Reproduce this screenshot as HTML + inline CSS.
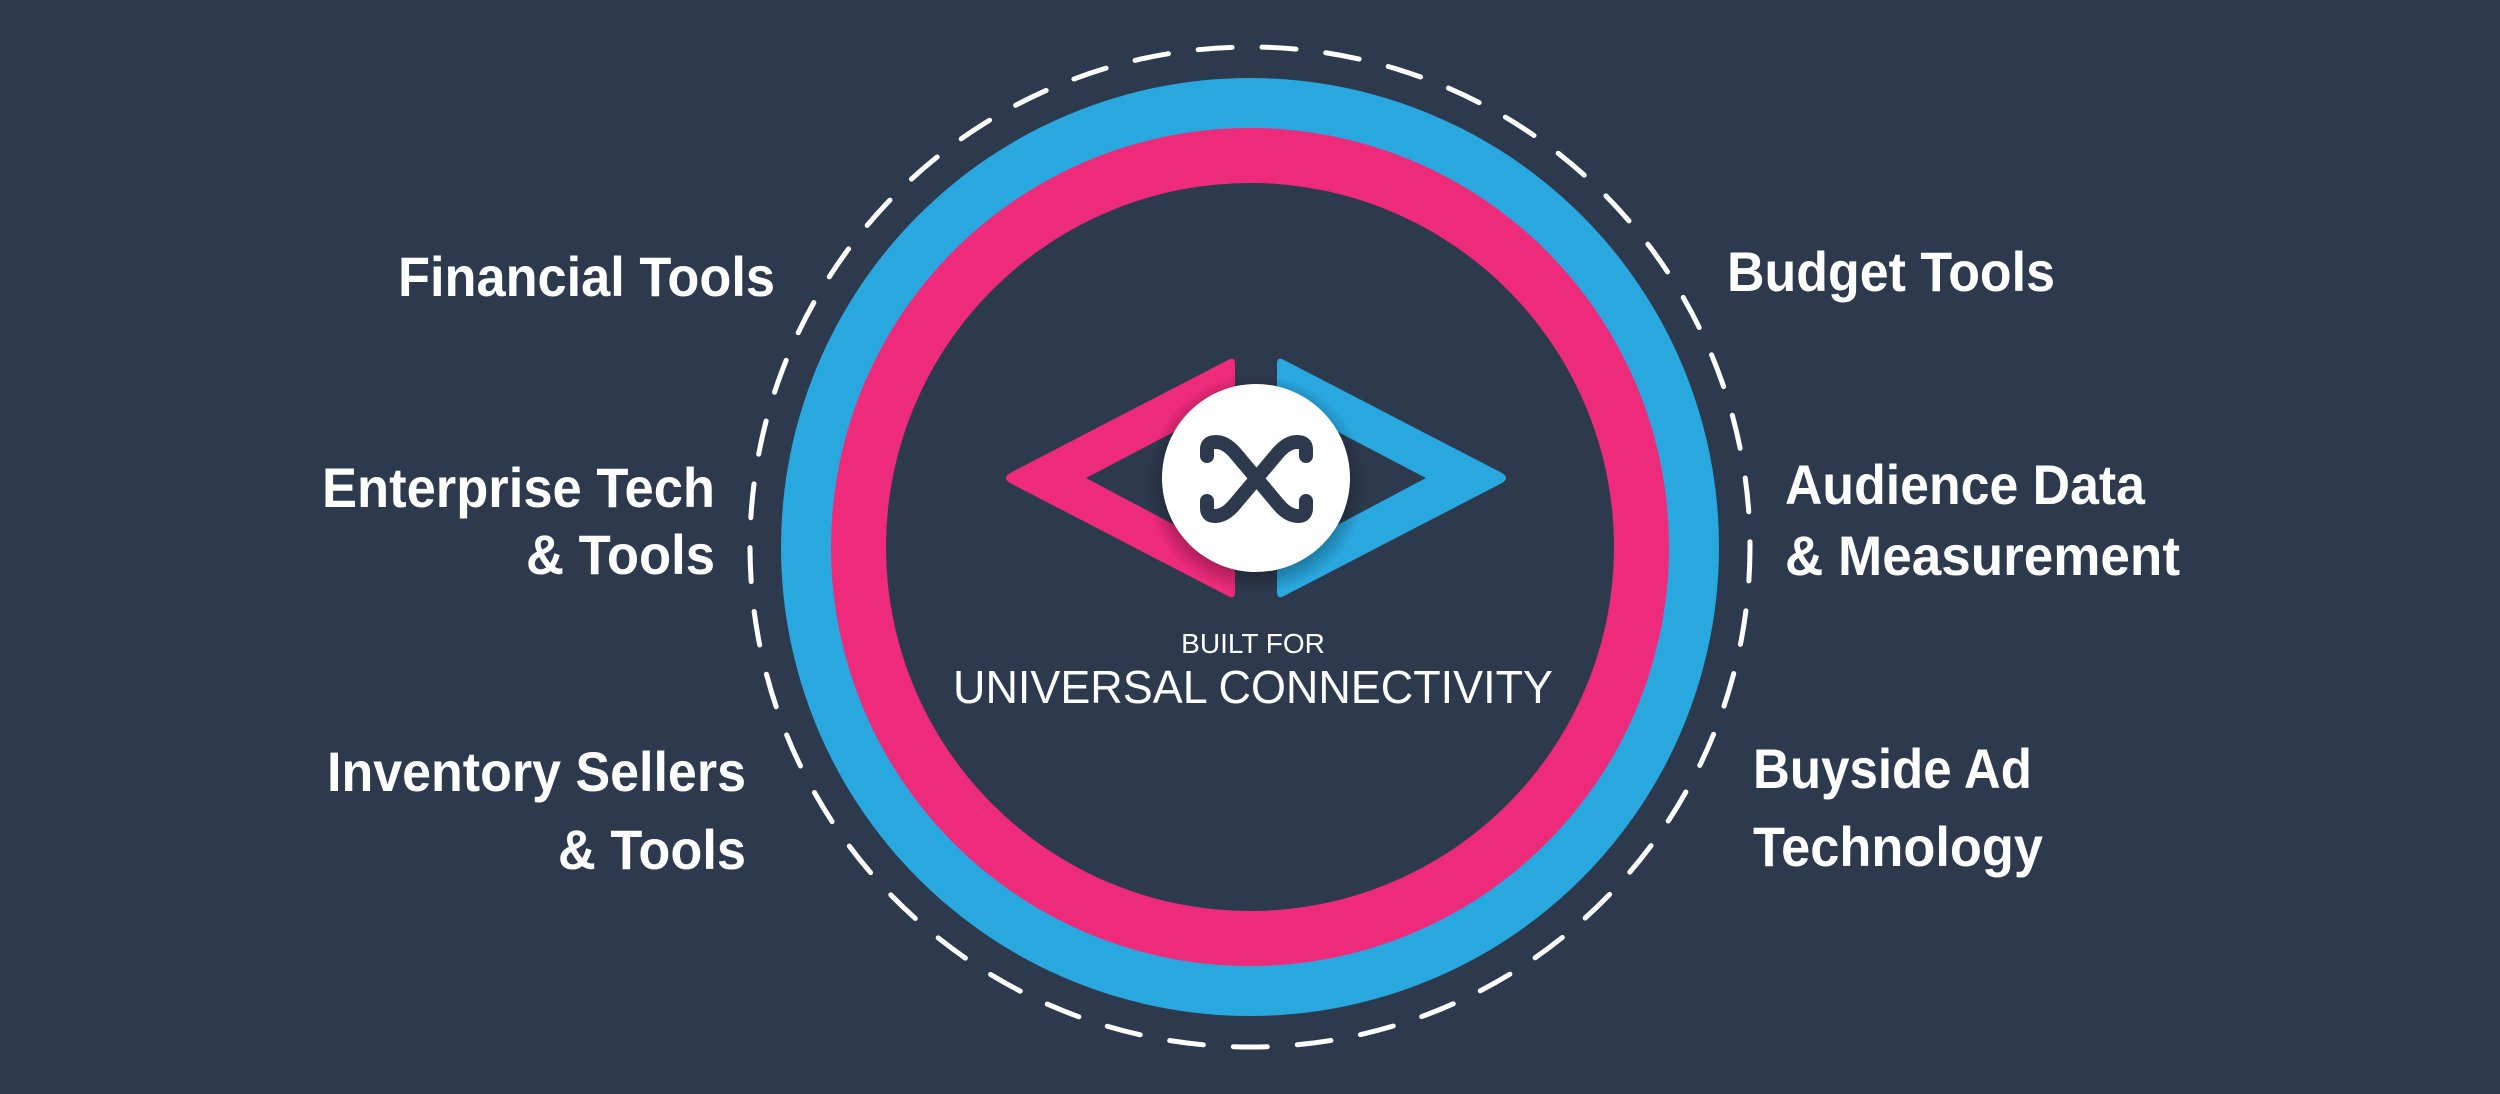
<!DOCTYPE html>
<html><head><meta charset="utf-8"><style>html,body{margin:0;padding:0;background:#2d3a4e;}svg{display:block}</style></head>
<body>
<svg width="2500" height="1094" viewBox="0 0 2500 1094" xmlns="http://www.w3.org/2000/svg">
<defs>
<radialGradient id="sh" cx="0.5" cy="0.5" r="0.5">
<stop offset="0.75" stop-color="#000" stop-opacity="0.35"/>
<stop offset="1" stop-color="#000" stop-opacity="0"/>
</radialGradient>
</defs>
<rect width="2500" height="1094" fill="#2d3a4e"/>
<circle cx="1250" cy="547" r="500" fill="none" stroke="#fff" stroke-width="5" stroke-dasharray="34 30" stroke-linecap="round"/>
<circle cx="1250" cy="547" r="469" fill="#29a8e0"/>
<circle cx="1250" cy="547" r="419" fill="#ee2a7b"/>
<circle cx="1250" cy="547" r="364" fill="#2d3a4e"/>
<path d="M1235,364 Q1235,356 1228,360 L1010,473 Q1002,478 1010,483 L1228,596 Q1235,600 1235,592 L1235,557 L1086,478 L1235,400 Z" fill="#ee2a7b"/>
<path d="M1277,364 Q1277,356 1284,360 L1502,473 Q1510,478 1502,483 L1284,596 Q1277,600 1277,592 L1277,557 L1426,478 L1277,400 Z" fill="#29a8e0"/>
<circle cx="1256" cy="484" r="110" fill="url(#sh)"/>
<circle cx="1256" cy="478" r="94" fill="#fff"/>
<g fill="none" stroke="#2d3a4e" stroke-width="14" stroke-linecap="round" stroke-linejoin="round">
<path d="M1207,456 V449 Q1207,442 1216,442 Q1226,442 1236,454 L1278,504 Q1288,516 1298,516 Q1306,516 1306,508 V501"/>
<path d="M1306,456 V449 Q1306,442 1297,442 Q1287,442 1277,454 L1235,504 Q1225,516 1215,516 Q1207,516 1207,508 V501"/>
</g>
<g fill="#fff" font-family="Liberation Sans, sans-serif">
<text x="1253" y="653" font-size="28" text-anchor="middle">BUILT FOR</text>
<text x="953" y="703" font-size="46" textLength="600" lengthAdjust="spacingAndGlyphs">UNIVERSAL CONNECTIVITY</text>
</g>
<g fill="#fff" font-family="Liberation Sans, sans-serif" font-weight="bold" font-size="56">
<text x="398" y="296" textLength="377" lengthAdjust="spacingAndGlyphs">Financial Tools</text>
<text x="322" y="507" textLength="393" lengthAdjust="spacingAndGlyphs">Enterprise Tech</text>
<text x="526" y="574" textLength="189" lengthAdjust="spacingAndGlyphs">&amp; Tools</text>
<text x="327" y="791" textLength="419" lengthAdjust="spacingAndGlyphs">Inventory Sellers</text>
<text x="558" y="869" textLength="188" lengthAdjust="spacingAndGlyphs">&amp; Tools</text>
<text x="1727" y="291" textLength="328" lengthAdjust="spacingAndGlyphs">Budget Tools</text>
<text x="1785" y="504" textLength="360" lengthAdjust="spacingAndGlyphs">Audience Data</text>
<text x="1785" y="575" textLength="395" lengthAdjust="spacingAndGlyphs">&amp; Measurement</text>
<text x="1753" y="788" textLength="279" lengthAdjust="spacingAndGlyphs">Buyside Ad</text>
<text x="1753" y="866" textLength="290" lengthAdjust="spacingAndGlyphs">Technology</text>
</g>
</svg>
</body></html>
